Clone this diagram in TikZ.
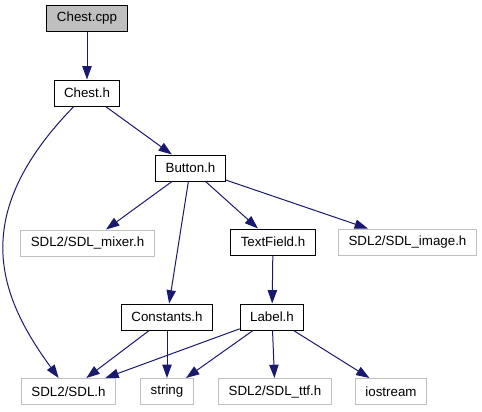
\documentclass[tikz,border=0pt]{standalone}
\usepackage{fontspec}
\setmainfont{Liberation Sans}
\usepackage{xcolor}
\usepackage{tikz}
\usetikzlibrary{arrows.meta}

\definecolor{depblue}{HTML}{191970}
\definecolor{extgray}{HTML}{BFBFBF}

\begin{document}
\begin{tikzpicture}[
    x=0.75pt, y=-0.75pt,
    file/.style={rectangle, draw=black, fill=white, line width=0.75pt, minimum height=19.5pt, inner xsep=7.5pt, inner ysep=0pt, font=\fontsize{10}{12}\selectfont},
    srcfile/.style={file, fill=extgray},
    extfile/.style={file, draw=extgray},
    dep/.style={-{Triangle[length=10pt, width=7pt]}, draw=depblue, line width=0.75pt}
]
\useasboundingbox (0,0) rectangle (482,411);

% Source file and its headers
\node[srcfile] (chestcpp) at (87,18) {Chest.cpp};
\node[file] (chesth) at (87,93) {Chest.h};
\node[file] (button) at (190.5,168) {Button.h};

% Second level
\node[extfile] (mixer) at (87.5,243) {SDL2/SDL\_mixer.h};
\node[file] (textfield) at (273,242) {TextField.h};
\node[extfile] (image) at (407.5,242) {SDL2/SDL\_image.h};

% Third level
\node[file] (constants) at (167,317) {Constants.h};
\node[file] (label) at (272,317) {Label.h};

% System headers at the bottom
\node[extfile] (sdl) at (68.5,391.5) {SDL2/SDL.h};
\node[extfile] (string) at (167,391.5) {string};
\node[extfile] (ttf) at (275,391.5) {SDL2/SDL\_ttf.h};
\node[extfile] (iostream) at (391,391.5) {iostream};

% Include edges
\draw[dep] (chestcpp) -- (chesth);
\draw[dep] (chesth) -- (button);
\draw[dep] (chesth) .. controls (-32,215) and (-2,295) .. (sdl);
\draw[dep] (button) -- (mixer);
\draw[dep] (button) -- (textfield);
\draw[dep] (button) -- (image);
\draw[dep] (button) -- (constants);
\draw[dep] (textfield) -- (label);
\draw[dep] (constants) -- (sdl);
\draw[dep] (constants) -- (string);
\draw[dep] (label) -- (sdl);
\draw[dep] (label) -- (string);
\draw[dep] (label) -- (ttf);
\draw[dep] (label) -- (iostream);

\end{tikzpicture}
\end{document}
